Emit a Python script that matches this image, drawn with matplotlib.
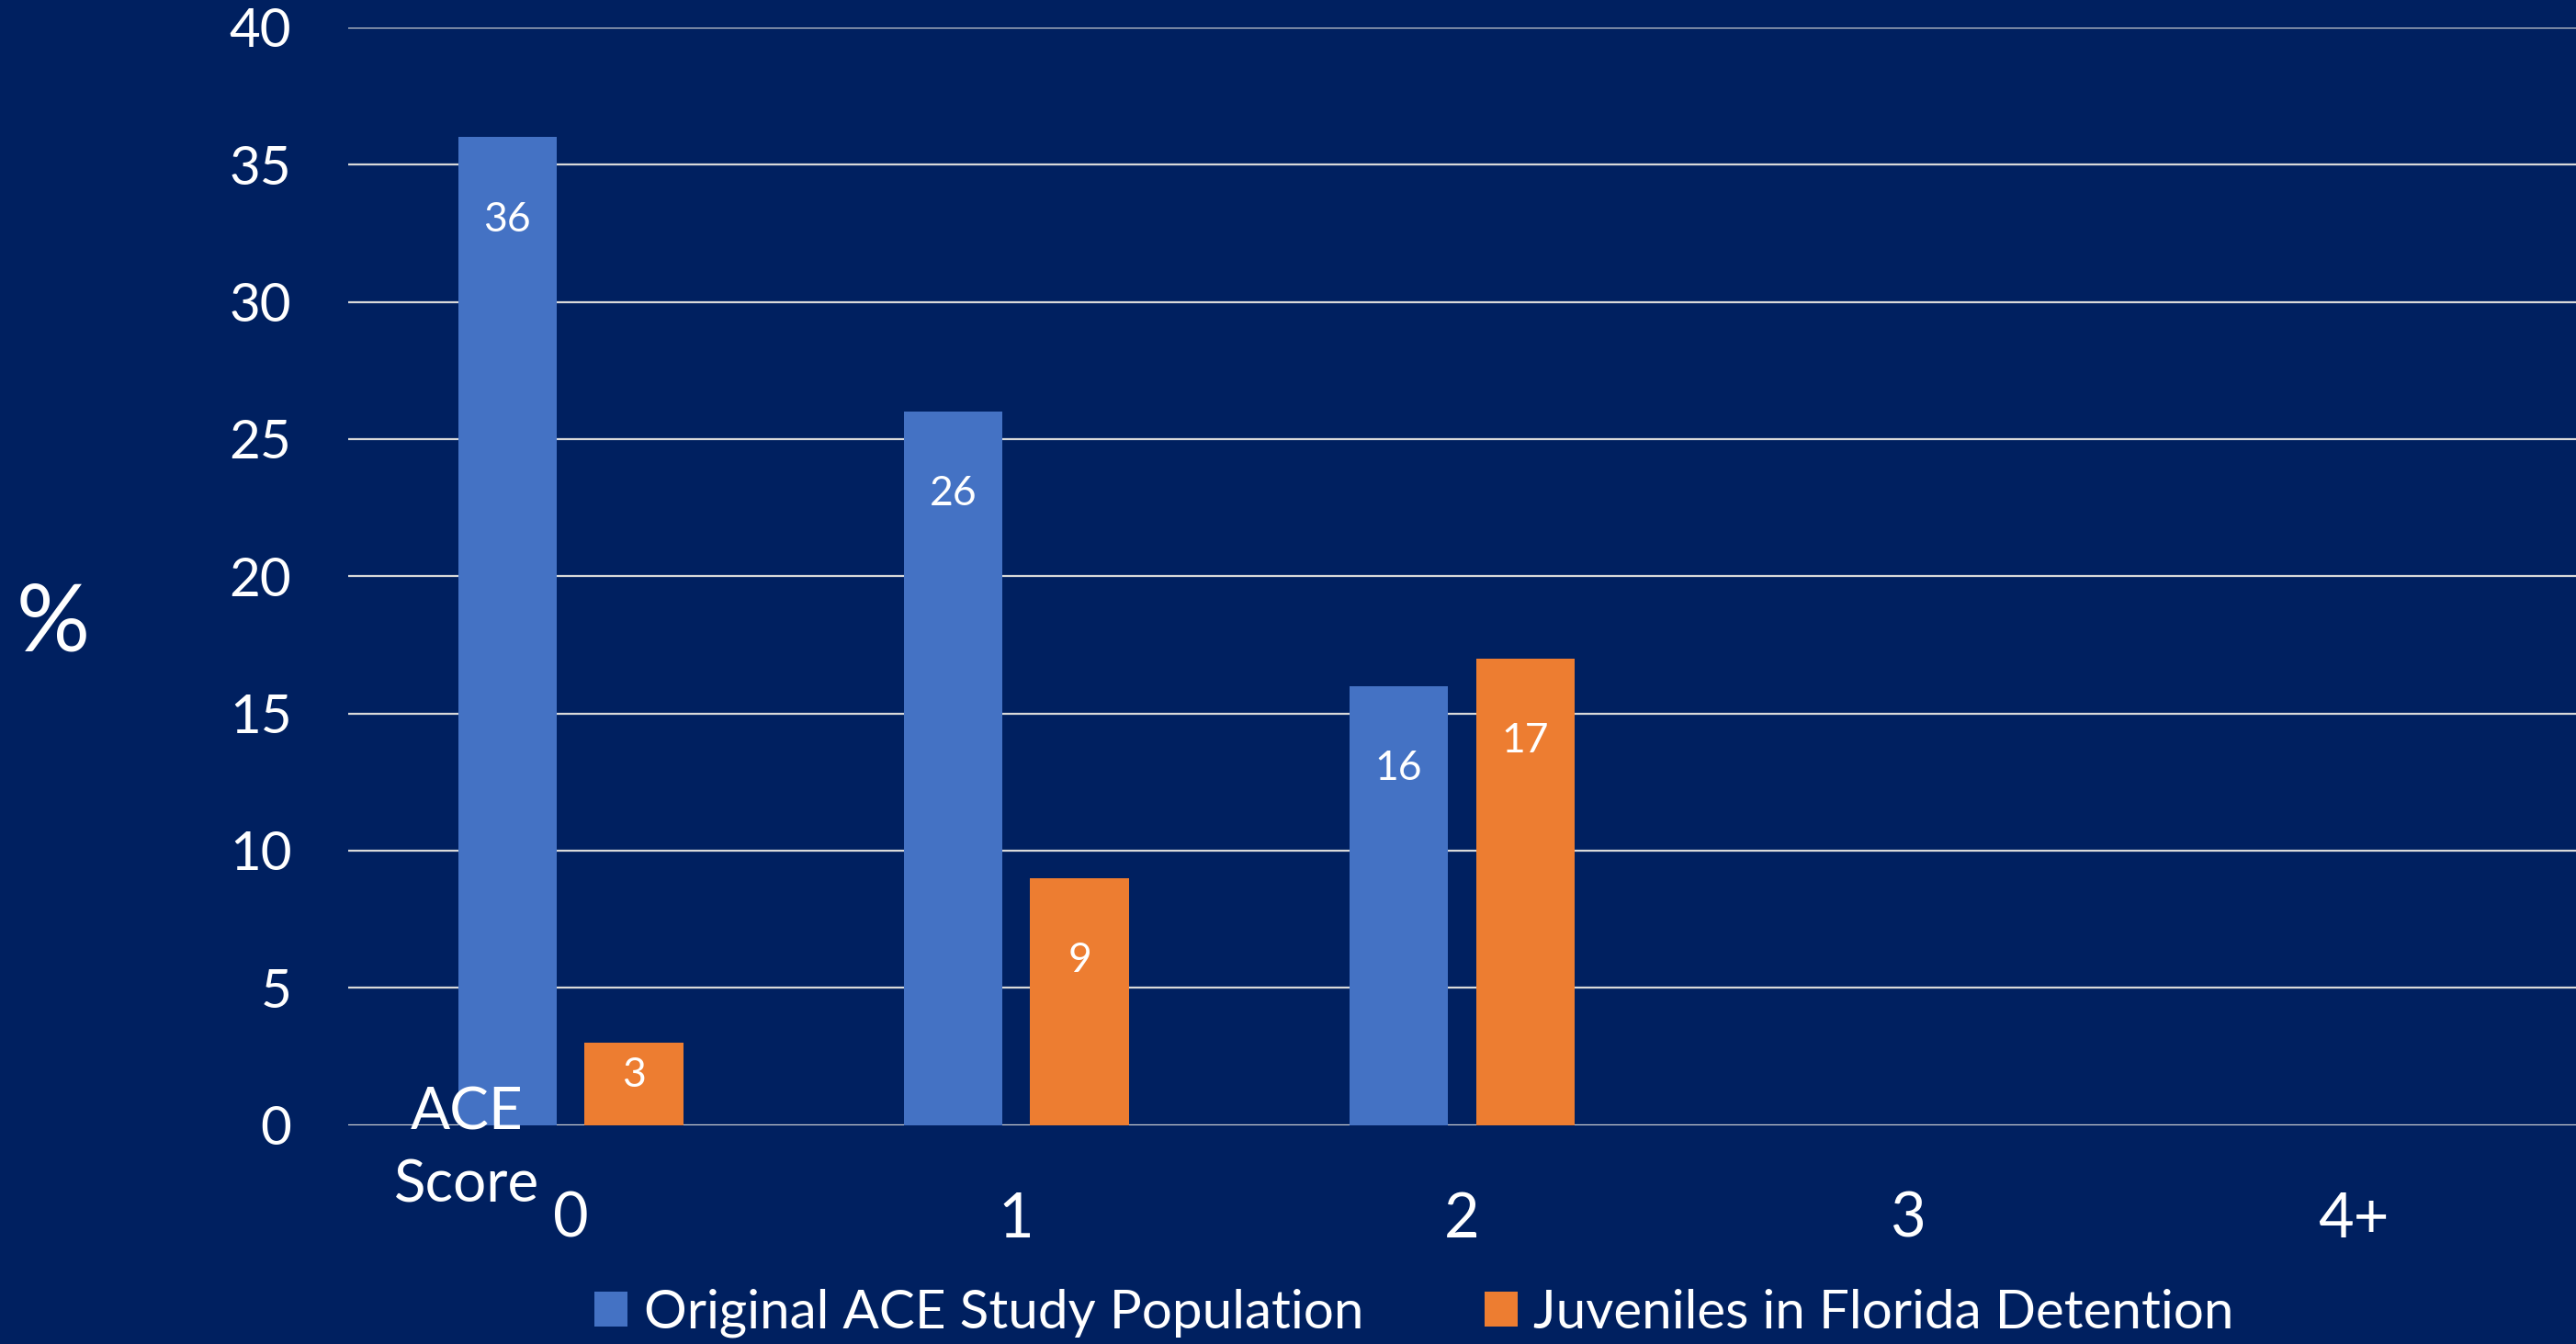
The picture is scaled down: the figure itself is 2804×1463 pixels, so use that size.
import numpy as np
import matplotlib.pyplot as plt
from matplotlib.patches import Patch

plt.rcParams['font.family'] = ['Lato', 'DejaVu Sans']

categories = ['0', '1', '2', '3', '4+']
original_ace = [36, 26, 16, None, None]
florida_juv = [3, 9, 17, None, None]
series_names = ['Original ACE Study Population', 'Juveniles in Florida Detention']
yticks = [0, 5, 10, 15, 20, 25, 30, 35, 40]

bg = '#002060'
c_blue = '#4472C4'
c_orange = '#ED7D31'
grid_c = '#D9D9D9'

fig = plt.figure(figsize=(14.02, 7.315), dpi=200, facecolor=bg)
ax = fig.add_axes([0.135, 0.163, 0.865, 0.8165])
ax.set_facecolor(bg)

x = np.arange(len(categories))
w = 0.221
off = 0.142

for vals, dx, col in [(original_ace, -off, c_blue), (florida_juv, off, c_orange)]:
    for xi, v in zip(x, vals):
        if v is None:
            continue
        ax.bar(xi + dx, v, width=w, color=col, zorder=3)
        ypos = v - min(3.0, v * 0.4)
        ax.text(xi + dx, ypos, str(v), ha='center', va='center',
                color='white', fontsize=16, zorder=4)

ax.set_xlim(-0.5, 4.5)
ax.set_ylim(0, 40)
ax.set_yticks(yticks)
ax.set_xticks(x)
ax.set_xticklabels(categories)
ax.yaxis.grid(True, color=grid_c, linewidth=0.8, zorder=0)
ax.set_axisbelow(True)
for s in ax.spines.values():
    s.set_visible(False)
ax.tick_params(axis='y', length=0, pad=22, labelsize=21, labelcolor='white')
ax.tick_params(axis='x', length=0, pad=26, labelsize=24, labelcolor='white')

ax.text(-0.232, -0.9, 'ACE\nScore', ha='center', va='center', color='white',
        fontsize=23, linespacing=1.45, clip_on=False, zorder=5)

fig.text(0.0205, 0.535, '%', ha='center', va='center', color='white', fontsize=36)

handles = [Patch(facecolor=c_blue), Patch(facecolor=c_orange)]
leg = fig.legend(handles, series_names, loc='center', bbox_to_anchor=(0.549, 0.023),
                 ncol=2, frameon=False, fontsize=21, handlelength=0.62, handleheight=0.62,
                 handletextpad=0.3, columnspacing=2.25)
for t in leg.get_texts():
    t.set_color('white')

fig.savefig('out.png', dpi=200, facecolor=bg)
